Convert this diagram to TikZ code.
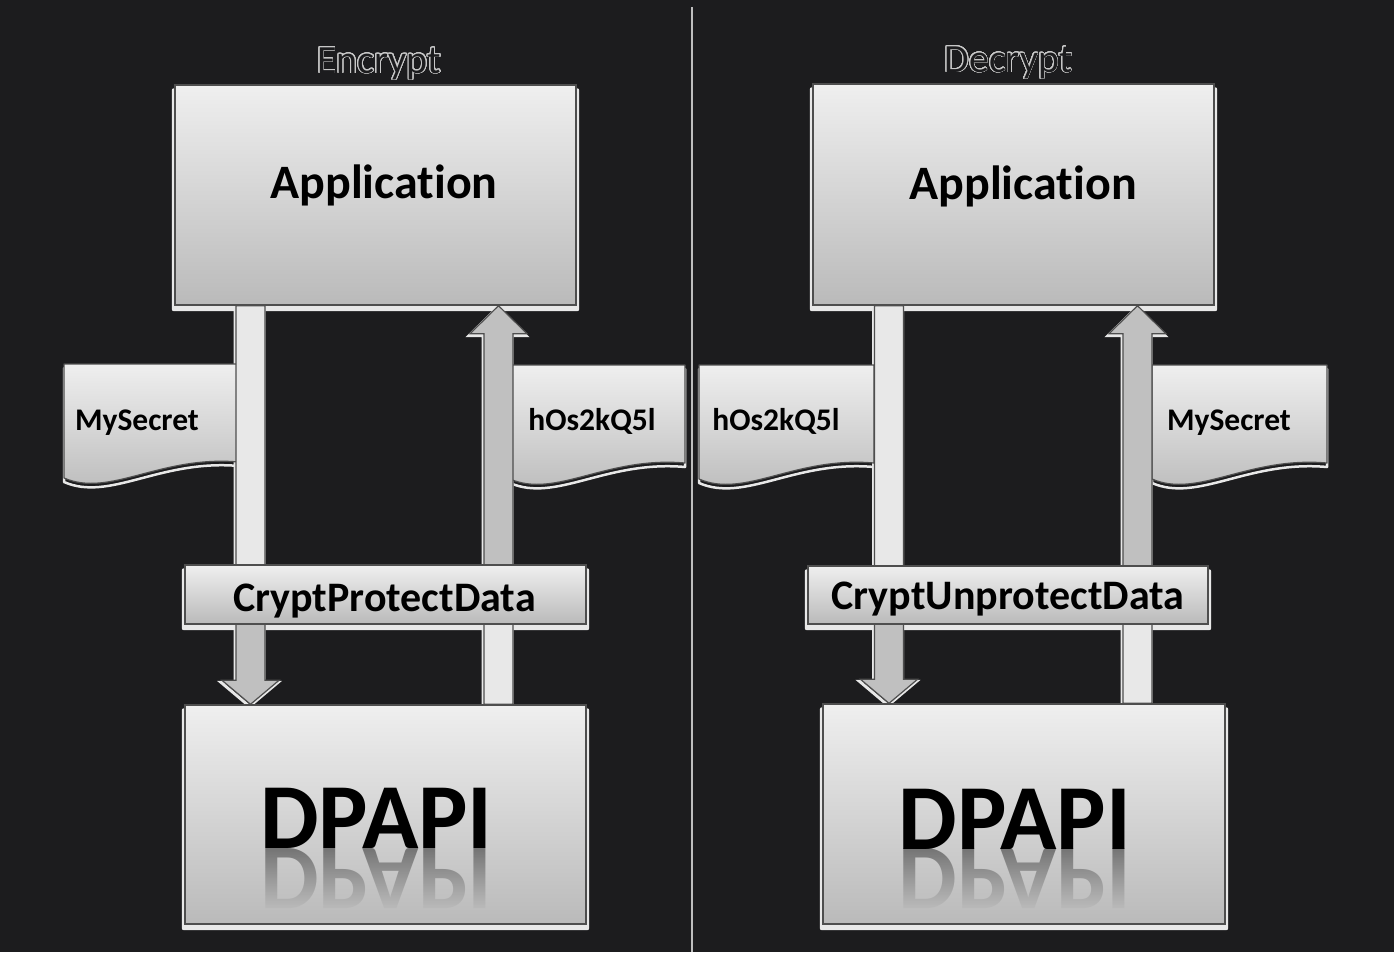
\documentclass[tikz,border=0pt]{standalone}
\usepackage{fontspec}
\setmainfont{Carlito}[Ligatures={NoCommon}]
\usepackage{contour}
\usetikzlibrary{fadings,calc}
\definecolor{bgc}{RGB}{28,28,30}
\definecolor{boxtop}{RGB}{239,239,239}
\definecolor{boxbot}{RGB}{186,186,186}
\definecolor{edgec}{RGB}{78,78,78}
\definecolor{rimc}{RGB}{232,232,232}
\definecolor{sepc}{RGB}{190,190,190}
\definecolor{alight}{RGB}{232,232,232}
\definecolor{adark}{RGB}{192,192,192}
\definecolor{reflc}{RGB}{70,70,70}
\definecolor{outc}{RGB}{200,200,200}
\contourlength{0.75pt}
\contournumber{32}
\pgfdeclareverticalshading{arrdown}{100bp}{color(0bp)=(adark); color(36bp)=(adark); color(41bp)=(alight); color(100bp)=(alight)}
\pgfdeclareverticalshading{arrup}{100bp}{color(0bp)=(alight); color(36bp)=(alight); color(41bp)=(adark); color(100bp)=(adark)}
\tikzfading[name=reflfade, top color=transparent!35, bottom color=transparent!100]
\pgfdeclarelayer{back}
\pgfdeclarelayer{rims}
\pgfsetlayers{back,rims,main}
\newcommand\fsz[1]{\fontsize{#1}{#1}\selectfont}
\tikzset{
  panel/.style={draw=edgec, line width=1.4pt, top color=boxtop, bottom color=boxbot, inner sep=0pt},
  docbox/.style={draw=edgec, line width=1.2pt, top color=boxtop, bottom color=boxbot, line join=round},
  apptxt/.style={font=\bfseries\fsz{48}, anchor=base, inner sep=0pt, text=black},
  cpdtxt/.style={font=\bfseries\fsz{42}, anchor=base, inner sep=0pt, text=black},
  dptxt/.style={font=\bfseries\fsz{93}, anchor=base, inner sep=0pt, text=black},
  doctxt/.style={font=\bfseries\fsz{31.5}, anchor=base, inner sep=0pt, text=black},
  titletxt/.style={font=\fsz{40}, anchor=base, inner sep=0pt, text=bgc},
}
% box rim (light bevel under each box)
\newcommand\rimfor[1]{%
  \begin{pgfonlayer}{rims}
    \fill[rimc, rounded corners=2pt] ([shift={(-2.5,4)}]#1.north west) rectangle ([shift={(2.5,5.5)}]#1.south east);
  \end{pgfonlayer}}
% document shape: #1 name of text node, #2 x0, #3 y0, #4 text centre x, #5 text
\newcommand\docat[5]{%
  \begin{pgfonlayer}{rims}
    \draw[rimc, line width=2.5pt, line join=round, shift={(0,4)}] (#2,#3) -- (#2+175,#3) -- (#2+175,#3+98) .. controls (#2+96,#3+91) and (#2+46,#3+134) .. (#2,#3+114) -- cycle;
  \end{pgfonlayer}
  \draw[docbox] (#2,#3) -- (#2+175,#3) -- (#2+175,#3+98) .. controls (#2+96,#3+91) and (#2+46,#3+134) .. (#2,#3+114) -- cycle;
  \node[doctxt] (#1) at (#4,430) {#5};}
% fat arrow: #1 shading, #2 tail coordinate, #3 tip coordinate, #4 signed head length
\newcommand\fatarr[4]{%
  \begin{pgfonlayer}{rims}
    \draw[rimc, line width=3pt, transform canvas={xshift=-1pt,yshift=-2pt}]
      ([xshift=-14.5pt]#2) -- ([shift={(-14.5,#4)}]#3) -- ([shift={(-28.5,#4)}]#3) -- (#3)
      -- ([shift={(28.5,#4)}]#3) -- ([shift={(14.5,#4)}]#3) -- ([xshift=14.5pt]#2) -- cycle;
  \end{pgfonlayer}
  \shadedraw[shading=#1, draw=edgec, line width=1.2pt]
      ([xshift=-14.5pt]#2) -- ([shift={(-14.5,#4)}]#3) -- ([shift={(-28.5,#4)}]#3) -- (#3)
      -- ([shift={(28.5,#4)}]#3) -- ([shift={(14.5,#4)}]#3) -- ([xshift=14.5pt]#2) -- cycle;}
\begin{document}
\begin{tikzpicture}[x=1pt,y=-1pt]
\begin{pgfonlayer}{back}
  \fill[bgc] (0,0) rectangle (1394,952);
  \coordinate (sepTop) at (692,7);
  \coordinate (sepBot) at (692,952);
  \draw[sepc, line width=2pt] (sepTop) -- (sepBot);
\end{pgfonlayer}

% ---------- boxes (nodes) ----------
\node[panel, minimum width=401pt, minimum height=220pt] (appL) at (375.5,195) {};
\node[panel, minimum width=401pt, minimum height=59pt]  (cpdL) at (385.5,594.5) {};
\node[panel, minimum width=401pt, minimum height=219pt] (dpL)  at (385.5,814.5) {};
\node[panel, minimum width=401pt, minimum height=221pt] (appR) at (1013.5,194.5) {};
\node[panel, minimum width=400pt, minimum height=58pt]  (cpdR) at (1008,595) {};
\node[panel, minimum width=402pt, minimum height=220pt] (dpR)  at (1024,814) {};
\rimfor{appL}\rimfor{cpdL}\rimfor{dpL}\rimfor{appR}\rimfor{cpdR}\rimfor{dpR}

% ---------- documents ----------
\docat{secL}{64}{364}{137}{MySecret}
\docat{encL}{510}{365}{592}{hOs2kQ5l}
\docat{encR}{699}{365}{776}{hOs2kQ5l}
\docat{secR}{1152}{365}{1229}{MySecret}

% ---------- arrows ----------
\coordinate (xLd) at (250.5,0);
\coordinate (xLu) at (498.5,0);
\coordinate (xRd) at (889,0);
\coordinate (xRu) at (1137.5,0);
\coordinate (aLd1) at (xLd |- appL.south);
\coordinate (aLd2) at (xLd |- dpL.north);
\coordinate (aLu1) at (xLu |- dpL.north);
\coordinate (aLu2) at (xLu |- appL.south);
\coordinate (aRd1) at (xRd |- appR.south);
\coordinate (aRd2) at (xRd |- dpR.north);
\coordinate (aRu1) at (xRu |- dpR.north);
\coordinate (aRu2) at (xRu |- appR.south);
\fatarr{arrdown}{aLd1}{aLd2}{-24}
\fatarr{arrup}{aLu1}{aLu2}{28}
\fatarr{arrdown}{aRd1}{aRd2}{-24}
\fatarr{arrup}{aRu1}{aRu2}{28}

% redraw the boxes over the arrows
\node[panel, minimum width=401pt, minimum height=59pt]  (cpdL2) at (cpdL) {};
\node[panel, minimum width=400pt, minimum height=58pt]  (cpdR2) at (cpdR) {};
\node[panel, minimum width=401pt, minimum height=220pt] (appL2) at (appL) {};
\node[panel, minimum width=401pt, minimum height=221pt] (appR2) at (appR) {};
\node[panel, minimum width=401pt, minimum height=219pt] (dpL2)  at (dpL) {};
\node[panel, minimum width=402pt, minimum height=220pt] (dpR2)  at (dpR) {};

% ---------- texts ----------
\node[titletxt] (encTitle) at (379,73) {\contour{outc}{Encrypt}};
\node[titletxt] (decTitle) at (1008.5,72) {\contour{outc}{Decrypt}};
\node[apptxt] (appLt) at (384,198) {Application};
\node[apptxt] (appRt) at (1023,199) {Application};
\node[cpdtxt] (cpdLt) at (384.5,611) {CryptProtectData};
\node[cpdtxt] (cpdRt) at (1008,609) {CryptUnprotectData};

\begin{scope}
  \path[scope fading=reflfade] (255,849) rectangle (500,911);
  \node[dptxt, text=reflc] (dpLr) at (376.5,849) {\scalebox{1}[-1]{DPAPI}};
\end{scope}
\begin{scope}
  \path[scope fading=reflfade] (893,849) rectangle (1138,911);
  \node[dptxt, text=reflc] (dpRr) at (1015,849) {\scalebox{1}[-1]{DPAPI}};
\end{scope}
\node[dptxt] (dpLt) at (376.5,848) {DPAPI};
\node[dptxt] (dpRt) at (1015,849) {DPAPI};
\end{tikzpicture}
\end{document}
